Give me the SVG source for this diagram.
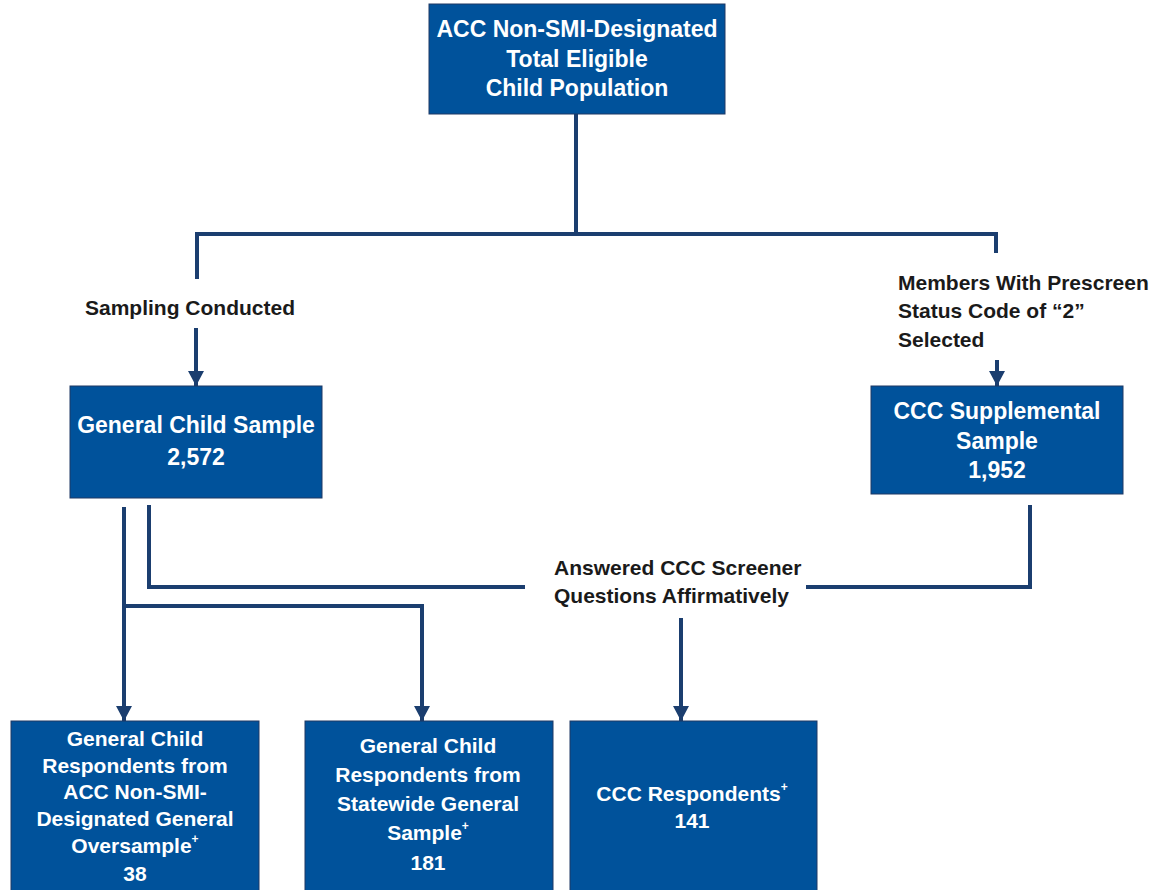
<svg xmlns="http://www.w3.org/2000/svg" width="1165" height="890" viewBox="0 0 1165 890">
<style>
.box{fill:#00529b;stroke:#1f3864;stroke-width:1}
.bt{font-family:"Liberation Sans",Arial,sans-serif;font-weight:bold;font-size:23px;fill:#ffffff;text-anchor:middle;dominant-baseline:central}
.bs{font-size:21px}
.lb{font-family:"Liberation Sans",Arial,sans-serif;font-weight:bold;font-size:21px;fill:#1a1a1a;dominant-baseline:central}
.cn{fill:none;stroke:#1b3e6f;stroke-width:4}
.sup{font-size:12px}
</style>
<defs>
<marker id="ah" markerUnits="userSpaceOnUse" markerWidth="18" markerHeight="16" refX="15" refY="8" orient="auto" viewBox="0 0 18 16">
<path d="M0,0 L15,8 L0,16 z" fill="#1b3e6f"/>
</marker>
</defs>
<g id="connectors">
<path class="cn" d="M576,114 V234"/>
<path class="cn" d="M197,279 V234 H996 V253"/>
<path class="cn" d="M196,328 V386" marker-end="url(#ah)"/>
<path class="cn" d="M997,360 V386" marker-end="url(#ah)"/>
<path class="cn" d="M124,507 V721" marker-end="url(#ah)"/>
<path class="cn" d="M124,606 H422 V721" marker-end="url(#ah)"/>
<path class="cn" d="M149,505 V587 H525"/>
<path class="cn" d="M806,587 H1030 V505"/>
<path class="cn" d="M681,618 V721" marker-end="url(#ah)"/>
</g>
<g id="n-top">
<rect class="box" x="429" y="4" width="296" height="110"/>
<text class="bt" x="577" y="29">ACC Non-SMI-Designated</text>
<text class="bt" x="577" y="59">Total Eligible</text>
<text class="bt" x="577" y="88">Child Population</text>
</g>
<g id="lbl-sampling">
<text class="lb" x="190" y="307" text-anchor="middle">Sampling Conducted</text>
</g>
<g id="lbl-members">
<text class="lb" x="898" y="282">Members With Prescreen</text>
<text class="lb" x="898" y="310">Status Code of “2”</text>
<text class="lb" x="898" y="339">Selected</text>
</g>
<g id="n-general">
<rect class="box" x="70" y="386" width="252" height="112"/>
<text class="bt" x="196" y="425">General Child Sample</text>
<text class="bt" x="196" y="457">2,572</text>
</g>
<g id="n-ccc">
<rect class="box" x="871" y="386" width="252" height="108"/>
<text class="bt" x="997" y="411">CCC Supplemental</text>
<text class="bt" x="997" y="441">Sample</text>
<text class="bt" x="997" y="470">1,952</text>
</g>
<g id="lbl-answered">
<text class="lb" x="554" y="567">Answered CCC Screener</text>
<text class="lb" x="554" y="595">Questions Affirmatively</text>
</g>
<g id="n-over">
<rect class="box" x="11" y="721" width="248" height="180"/>
<text class="bt bs" x="135" y="738">General Child</text>
<text class="bt bs" x="135" y="765">Respondents from</text>
<text class="bt bs" x="135" y="791">ACC Non-SMI-</text>
<text class="bt bs" x="135" y="818">Designated General</text>
<text class="bt bs" x="135" y="845">Oversample<tspan class="sup" dy="-6">+</tspan></text>
<text class="bt bs" x="135" y="873">38</text>
</g>
<g id="n-statewide">
<rect class="box" x="305" y="721" width="248" height="180"/>
<text class="bt bs" x="428" y="745">General Child</text>
<text class="bt bs" x="428" y="774">Respondents from</text>
<text class="bt bs" x="428" y="803">Statewide General</text>
<text class="bt bs" x="428" y="832">Sample<tspan class="sup" dy="-6">+</tspan></text>
<text class="bt bs" x="428" y="862">181</text>
</g>
<g id="n-cccresp">
<rect class="box" x="570" y="721" width="247" height="180"/>
<text class="bt bs" x="692" y="793">CCC Respondents<tspan class="sup" dy="-6">+</tspan></text>
<text class="bt bs" x="692" y="820">141</text>
</g>
</svg>
